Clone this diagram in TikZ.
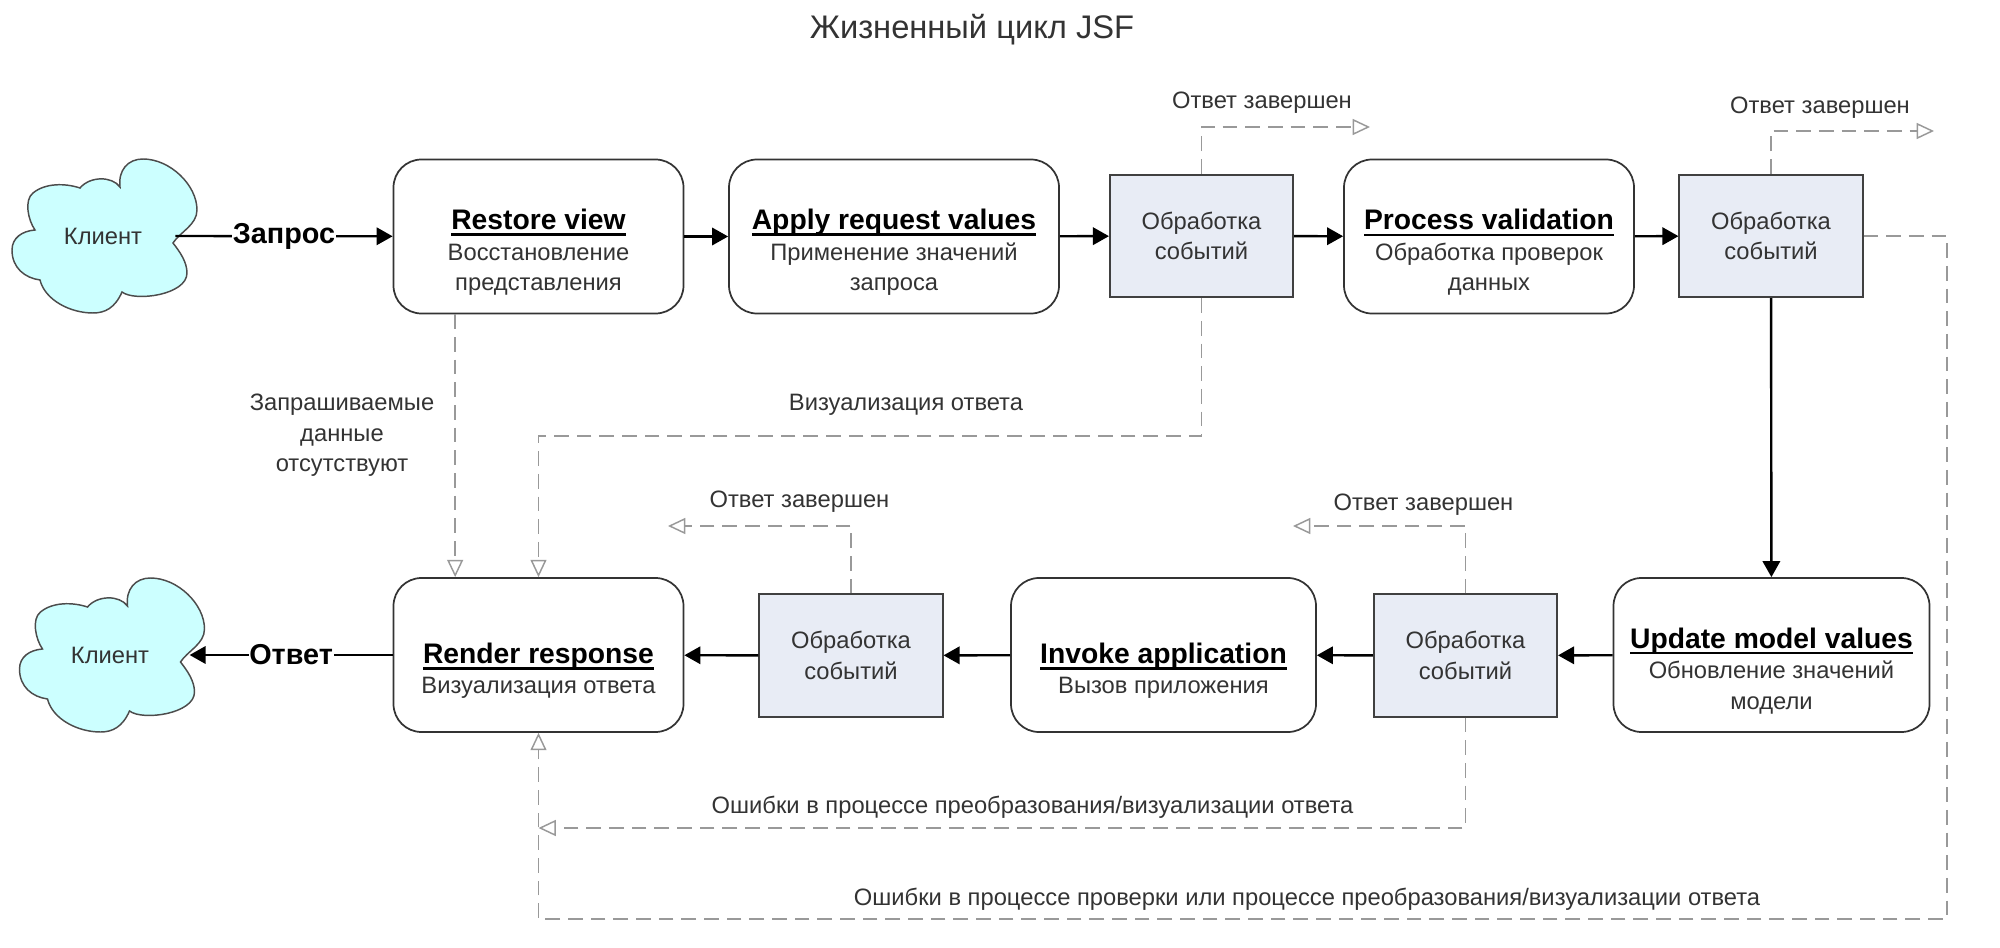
\documentclass[tikz,border=0pt]{standalone}
\usepackage{fontspec}
\setmainfont{Liberation Sans}
\usetikzlibrary{arrows.meta}
\definecolor{cloudfill}{HTML}{CCFFFF}
\definecolor{eventfill}{HTML}{E8ECF5}
\definecolor{dashgray}{HTML}{999999}
\definecolor{labeltext}{HTML}{333333}
\newcommand{\headline}[1]{\smash{\vtop{\hbox{\raisebox{0pt}[\height][0pt]{#1}}\kern3pt\hrule height 1.7pt}}}
\newcommand{\stagetext}[2]{\strut\\{\fontsize{21.2}{23}\selectfont\bfseries\color{black}\headline{#1}}\\#2}

\begin{document}
\begin{tikzpicture}[x=0.75pt, y=-0.75pt,
	every node/.style={text=labeltext, font=\fontsize{17.8}{23}\selectfont},
	pics/cloudline/.style={code={
		\draw [draw=black!70, line width=1.1pt, fill=cloudfill] (120,187)
			.. controls (118,170) and (128,159) .. (143,159)
			.. controls (170,159) and (197,185) .. (197,210)
			.. controls (197,225) and (180,232) .. (173,243)
			.. controls (180,252) and (187,262) .. (187,273)
			.. controls (187,295) and (135,302) .. (122,292)
			.. controls (115,308) and (105,313) .. (93,313)
			.. controls (70,313) and (45,300) .. (40,280)
			.. controls (25,278) and (12,268) .. (12,250)
			.. controls (12,238) and (22,231) .. (35,230)
			.. controls (28,220) and (24,200) .. (33,193)
			.. controls (45,183) and (65,183) .. (80,188)
			.. controls (90,176) and (112,176) .. (120,187) -- cycle;
	}},
	clientbox/.style={minimum height=40pt, inner sep=0pt},
	stagebox/.style={draw=black!80, line width=1.3pt, rounded corners=21pt, fill=white, minimum height=115.5pt, align=center, inner sep=0pt},
	eventbox/.style={draw=black!75, line width=1.3pt, fill=eventfill, minimum width=137.5pt, minimum height=92pt, align=center, inner sep=0pt},
	flow/.style={line width=1.8pt, arrows={-Triangle[length=12pt,width=13pt]}, black},
	bigtext/.style={text=black, font=\fontsize{21.6}{23}\selectfont\bfseries, fill=white, inner sep=0.5pt},
	dashline/.style={line width=1.1pt, dashgray, dash pattern=on 11pt off 6pt},
	dashflow/.style={dashline, arrows={-Triangle[open, length=13pt, width=12pt, fill=white]}},
	note/.style={align=center}]
	\useasboundingbox (0,0) rectangle (2000,948);

	\node (title) at (972,29.5) {\fontsize{24.5}{28}\selectfont Жизненный цикл JSF};

	\pic at (0,0) {cloudline};
	\pic at (7.5,419) {cloudline};
	\node [clientbox, minimum width=108pt] (clientin) at (103,236) {Клиент};
	\node [stagebox, minimum width=217.5pt] (restore) at (538.5,236.5) {\stagetext{Restore view}{Восстановление\\представления}};
	\node [stagebox, minimum width=247.5pt] (apply) at (894,236.5) {\stagetext{Apply request values}{Применение значений\\запроса}};
	\node [eventbox] (eventa) at (1201.5,236) {Обработка\\событий};
	\node [stagebox, minimum width=217.5pt] (process) at (1489,236.5) {\stagetext{Process validation}{Обработка проверок\\данных}};
	\node [eventbox] (eventb) at (1771,236) {Обработка\\событий};

	\node [clientbox, minimum width=119pt] (clientout) at (110,655) {Клиент};
	\node [stagebox, minimum width=217.5pt] (render) at (538.5,655) {\stagetext{Render response}{Визуализация ответа}};
	\node [eventbox] (eventd) at (851,655.5) {Обработка\\событий};
	\node [stagebox, minimum width=228.75pt] (invoke) at (1163.5,655) {\stagetext{Invoke application}{Вызов приложения}};
	\node [eventbox] (eventc) at (1465.5,655.5) {Обработка\\событий};
	\node [stagebox, minimum width=237pt] (update) at (1771.5,655) {\stagetext{Update model values}{Обновление значений\\модели}};

	\coordinate (donea) at (1370,127);
	\coordinate (doneb) at (1934,131);
	\coordinate (donec) at (1293,526);
	\coordinate (doned) at (668,526);
	\coordinate (bendrender) at (538.5,436);
	\coordinate (errorc) at (538.5,828);
	\coordinate (errorbr) at (1947,236);
	\coordinate (errorbb) at (1947,919);
	\coordinate (errorbl) at (538.5,919);

	\draw [flow] (clientin.east) to node [bigtext] {Запрос} (restore);
	\draw [flow] (restore) to (apply);
	\draw [flow] (apply) to (eventa);
	\draw [flow] (eventa) to (process);
	\draw [flow] (process) to (eventb);
	\draw [flow] (eventb) to (update);
	\draw [flow] (update) to (eventc);
	\draw [flow] (eventc) to (invoke);
	\draw [flow] (invoke) to (eventd);
	\draw [flow] (eventd) to (render);
	\draw [flow] (render) to node [bigtext] {Ответ} (clientout.east);

	\draw [dashflow] (eventa.north) |- (donea);
	\draw [dashflow] (eventb.north) |- (doneb);
	\draw [dashflow] (eventc.north) |- (donec);
	\draw [dashflow] (eventd.north) |- (doned);
	\draw [dashflow] ([xshift=-62.5pt]restore.south) -- ([xshift=-62.5pt]render.north);
	\draw [dashflow] (eventa.south) |- (bendrender) -- (render.north);
	\draw [dashflow] (eventc.south) |- (errorc);
	\draw [dashflow] (eventb.east) -- (errorbr) -- (errorbb) -- (errorbl) -- (render.south);

	\node [note] (lbldonea) at (1262,102.5) {Ответ завершен};
	\node [note] (lbldoneb) at (1820,107.5) {Ответ завершен};
	\node [note] (lbldonec) at (1423.5,504.5) {Ответ завершен};
	\node [note] (lbldoned) at (799.5,501.5) {Ответ завершен};
	\node [note] (lblmissing) at (342,435.5) {Запрашиваемые\\данные\\отсутствуют};
	\node [note] (lblrender) at (906,404.5) {Визуализация ответа};
	\node [note] (lblerrorc) at (1032.5,807) {Ошибки в процессе преобразования/визуализации ответа};
	\node [note] (lblerrorb) at (1307,899) {Ошибки в процессе проверки или процессе преобразования/визуализации ответа};
\end{tikzpicture}
\end{document}
